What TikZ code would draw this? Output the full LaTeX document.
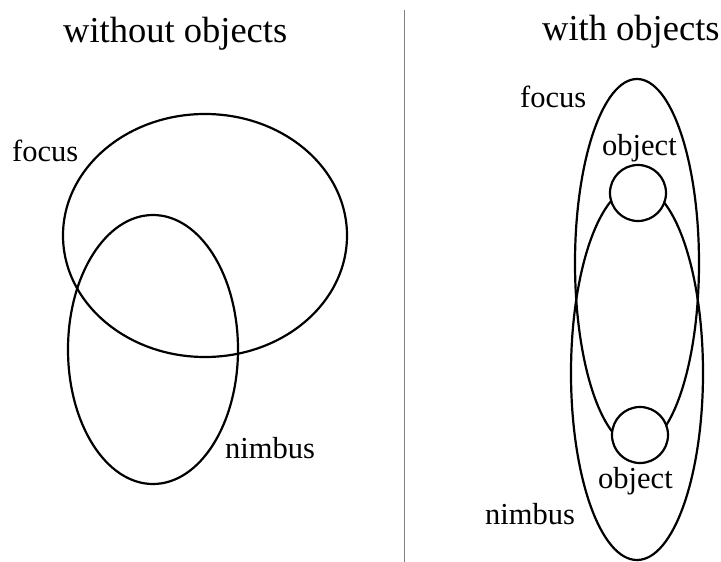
\documentclass[tikz,border=0pt]{standalone}
\usepackage{fontspec}
\setmainfont{Liberation Serif}
\usetikzlibrary{shapes.geometric}
\begin{document}
\begin{tikzpicture}[x=1pt,y=-1pt,
  ring/.style={ellipse, draw, line width=2.2pt, inner sep=0pt, outer sep=0pt},
  obj/.style={circle, draw, fill=white, line width=2.2pt, inner sep=0pt, minimum size=56pt},
  title/.style={font=\fontsize{36.5}{40}\selectfont, inner sep=0pt, anchor=base west},
  lbl/.style={font=\fontsize{30.5}{34}\selectfont, inner sep=0pt, anchor=base west}]
\useasboundingbox (0,0) rectangle (721,562);
% divider
\coordinate (dtop) at (404,10);
\coordinate (dbot) at (404,562);
\draw[gray, line width=1pt] (dtop) -- (dbot);
% titles
\node[title] (t1) at (63,42) {without objects};
\node[title] (t2) at (542,40) {with objects};
% left part
\node[ring, minimum width=284pt, minimum height=243pt] (focusL) at (205,235.5) {};
\node[ring, minimum width=170pt, minimum height=269pt] (nimbusL) at (153,349.5) {};
\node[lbl] (lfocusL) at (12,161) {focus};
\node[lbl] (lnimbusL) at (225,458) {nimbus};
% right part
\node[ring, minimum width=124pt, minimum height=368pt] (focusR) at (637,263) {};
\node[ring, minimum width=132pt, minimum height=374pt] (nimbusR) at (637,373) {};
\node[obj] (o1) at (638,193) {};
\node[obj] (o2) at (640,435) {};
\node[lbl] (lfocusR) at (520,107) {focus};
\node[lbl] (lnimbusR) at (485,524) {nimbus};
\node[lbl] (lo1) at (602,155) {object};
\node[lbl] (lo2) at (598,488) {object};
\end{tikzpicture}
\end{document}
